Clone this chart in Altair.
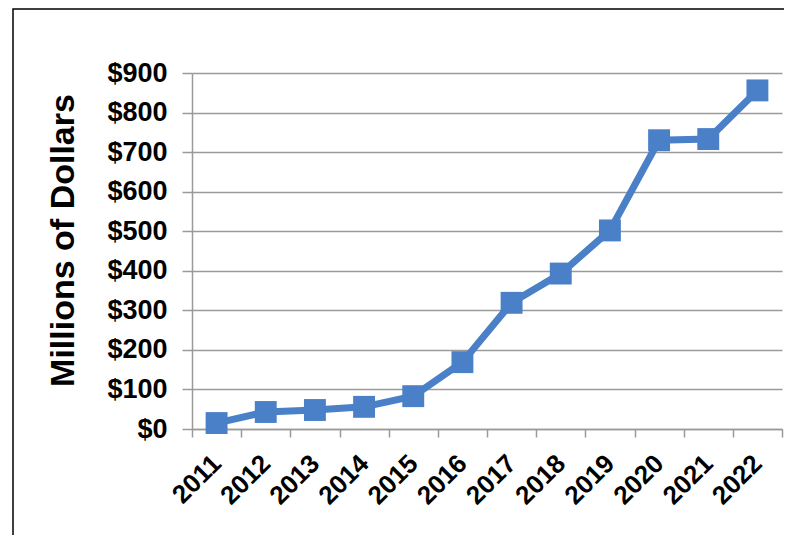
import altair as alt
import pandas as pd

years = ["2011", "2012", "2013", "2014", "2015", "2016", "2017", "2018", "2019", "2020", "2021", "2022"]
values = [15, 43, 48, 56, 83, 169, 319, 393, 502, 730, 733, 856]
y_ticks = [0, 100, 200, 300, 400, 500, 600, 700, 800, 900]

df = pd.DataFrame({"year": years, "value": values})

COLOR = "#4A80C8"
GRAY = "#9a9a9a"
FONT = "Liberation Sans"

x_enc = alt.X(
    "year:O",
    scale=alt.Scale(type="band", paddingInner=0, paddingOuter=0),
    axis=alt.Axis(
        title=None,
        labelAngle=-45,
        labelAlign="right",
        labelBaseline="middle",
        labelFont=FONT,
        labelFontSize=26,
        labelFontWeight="bold",
        labelColor="black",
        tickBand="extent",
        tickSize=8,
        tickColor=GRAY,
        tickWidth=1.5,
        domainColor=GRAY,
        domainWidth=1.5,
        labelPadding=22,
        grid=False,
    ),
)
y_enc = alt.Y(
    "value:Q",
    scale=alt.Scale(domain=[0, 900]),
    axis=alt.Axis(
        title="Millions of Dollars",
        titleFont=FONT,
        titleFontSize=34,
        titleFontWeight="bold",
        titleColor="black",
        titlePadding=26,
        titleY=167,
        values=y_ticks,
        format="$.0f",
        labelFont=FONT,
        labelFontSize=27,
        labelFontWeight="bold",
        labelColor="black",
        labelPadding=15,
        tickSize=10,
        tickColor=GRAY,
        tickWidth=1.5,
        domainColor=GRAY,
        domainWidth=1.5,
        gridColor=GRAY,
        gridWidth=1.5,
    ),
)

base = alt.Chart(df)
line = base.mark_line(color=COLOR, strokeWidth=7).encode(x=x_enc, y=y_enc)
pts = base.mark_square(color=COLOR, size=480, opacity=1).encode(x=x_enc, y=y_enc)

frame = alt.Chart(pd.DataFrame({"a": [0]})).mark_rect(
    fill="white", fillOpacity=0, stroke="black", strokeWidth=1.5
).encode(
    x=alt.value(-179), x2=alt.value(700), y=alt.value(-64), y2=alt.value(600)
)

chart = alt.layer(frame, line, pts).properties(
    width=590,
    height=356,
    autosize=alt.AutoSizeParams(type="none"),
    padding={"left": 184, "top": 65, "right": 2, "bottom": 106},
).configure_view(stroke=None)

chart.save("out.html", embed_options={"renderer": "svg", "actions": False})
